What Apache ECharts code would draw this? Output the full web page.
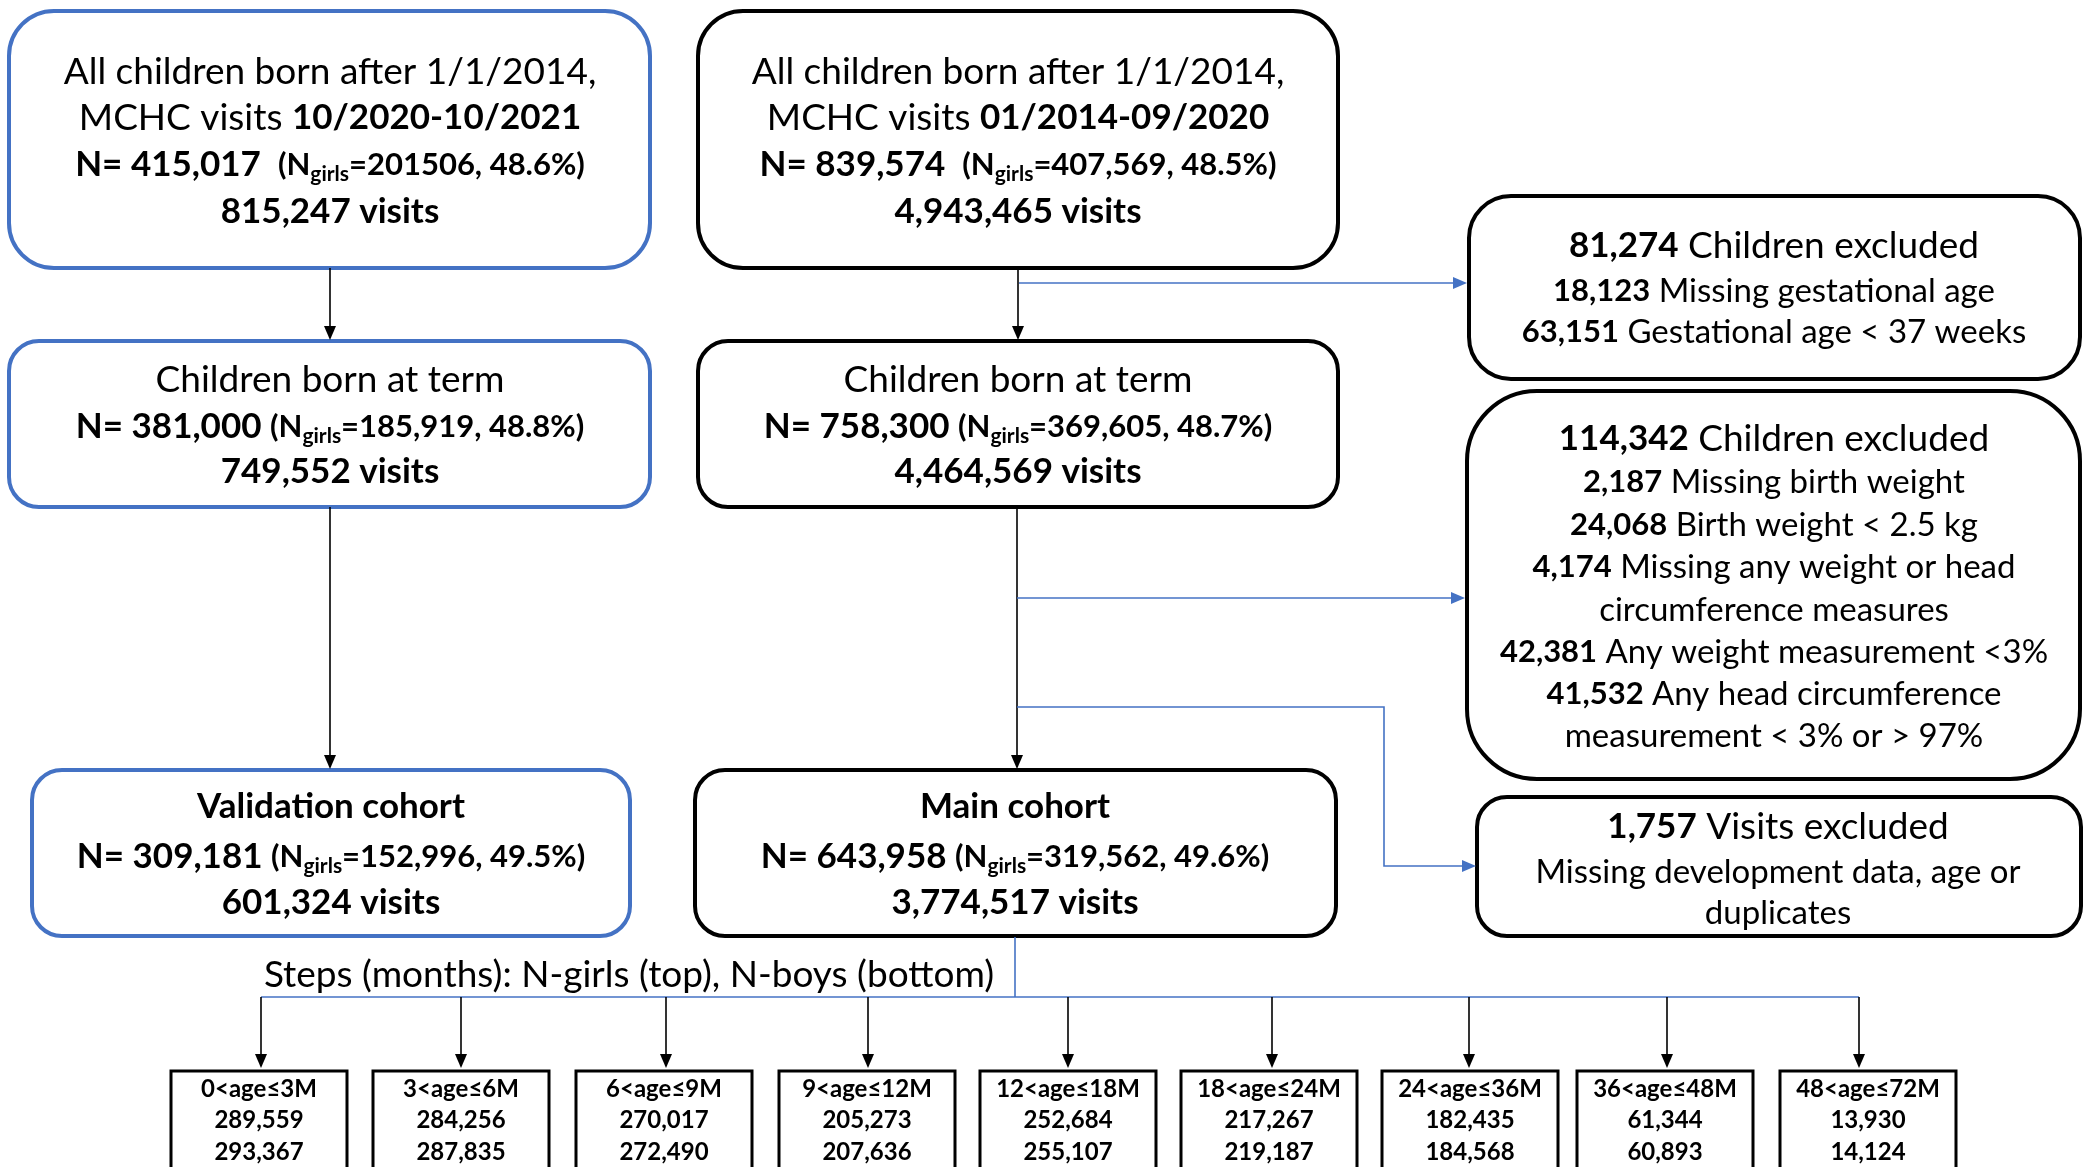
<!DOCTYPE html>
<html>
<head>
<meta charset="utf-8">
<script src="https://cdn.jsdelivr.net/npm/echarts@6/dist/echarts.min.js"></script>
<style>
  html, body { margin: 0; padding: 0; background: #fff; }
  #chart { width: 2084px; height: 1167px; }
</style>
</head>
<body>
<div id="chart"></div>
<script>
  var periods = ['10/2020-10/2021', '01/2014-09/2020'];
  var totalN = ['415,017', '839,574'];
  var totalGirls = ['201506', '407,569'];
  var totalGirlsPct = ['48.6%', '48.5%'];
  var totalVisits = ['815,247', '4,943,465'];

  var termN = ['381,000', '758,300'];
  var termGirls = ['185,919', '369,605'];
  var termGirlsPct = ['48.8%', '48.7%'];
  var termVisits = ['749,552', '4,464,569'];

  var cohortNames = ['Validation cohort', 'Main cohort'];
  var cohortN = ['309,181', '643,958'];
  var cohortGirls = ['152,996', '319,562'];
  var cohortGirlsPct = ['49.5%', '49.6%'];
  var cohortVisits = ['601,324', '3,774,517'];

  var pretermCounts = ['81,274', '18,123', '63,151'];
  var pretermReasons = ['Children excluded', 'Missing gestational age', 'Gestational age < 37 weeks'];

  var growthCounts = ['114,342', '2,187', '24,068', '4,174', '', '42,381', '41,532', ''];
  var growthReasons = ['Children excluded', 'Missing birth weight', 'Birth weight < 2.5 kg',
    'Missing any weight or head', 'circumference measures', 'Any weight measurement <3%',
    'Any head circumference', 'measurement < 3% or > 97%'];

  var visitCounts = ['1,757', '', ''];
  var visitReasons = ['Visits excluded', 'Missing development data, age or', 'duplicates'];

  var stepTitle = 'Steps (months): N-girls (top), N-boys (bottom)';
  var stepLabels = ['0<age≤3M', '3<age≤6M', '6<age≤9M', '9<age≤12M', '12<age≤18M',
    '18<age≤24M', '24<age≤36M', '36<age≤48M', '48<age≤72M'];
  var stepGirls = [289559, 284256, 270017, 205273, 252684, 217267, 182435, 61344, 13930];
  var stepBoys = [293367, 287835, 272490, 207636, 255107, 219187, 184568, 60893, 14124];

  // ---- drawing ----
  var FONT = 'Lato, "Open Sans", sans-serif';
  var BLUE = '#4472C4';
  var elements = [];

  // regular text in the original is a bit wider than Lato, so it gets a small boost
  function richFor(size) {
    var sub = Math.round(size * 0.6);
    return {
      r: { fontFamily: FONT, fontSize: Math.round(size * 1.06), fontWeight: 'normal', fill: '#000' },
      b: { fontFamily: FONT, fontSize: size, fontWeight: 'bold', fill: '#000' },
      p: { fontFamily: FONT, fontSize: size - 4, fontWeight: 'bold', fill: '#000' },
      s: { fontFamily: FONT, fontSize: sub, fontWeight: 'bold', fill: '#000', padding: [18, 0, 0, 0], lineHeight: 20 }
    };
  }

  function text(x, y, str, size) {
    elements.push({
      type: 'text', x: x, y: y, silent: true, z: 10,
      style: {
        text: str, rich: richFor(size), align: 'center', verticalAlign: 'middle',
        fontFamily: FONT, fontSize: size, fill: '#000'
      }
    });
  }

  function box(x, y, w, h, r, color, lw) {
    elements.push({
      type: 'rect', silent: true, z: 5,
      shape: { x: x, y: y, width: w, height: h, r: r },
      style: { fill: '#fff', stroke: color, lineWidth: lw }
    });
  }

  function head(x, y, dir, color) {
    var L = 14, W = 6, pts;
    if (dir === 'down') pts = [[x, y], [x - W, y - L], [x + W, y - L]];
    else pts = [[x, y], [x - L, y - W], [x - L, y + W]];
    elements.push({ type: 'polygon', silent: true, z: 8, shape: { points: pts }, style: { fill: color } });
  }

  function wire(points, color, arrow) {
    var n = points.length, last = points[n - 1].slice(), prev = points[n - 2];
    var dir = last[0] === prev[0] ? 'down' : 'right';
    var pts = points.slice(0, n - 1);
    if (arrow) {
      if (dir === 'down') pts.push([last[0], last[1] - 12]); else pts.push([last[0] - 12, last[1]]);
    } else pts.push(last);
    elements.push({ type: 'polyline', silent: true, z: 6, shape: { points: pts }, style: { stroke: color, lineWidth: 1.6, fill: null } });
    if (arrow) head(last[0], last[1], dir, color);
  }

  function girlsLine(n, g, pct, gap) {
    return '{b|N= ' + n + '}{b|' + gap + '}{p|(N}{s|girls}{p|=' + g + ', ' + pct + ')}';
  }

  // column boxes (left: validation data, middle: main data)
  var colX = [9, 698], colW = [641, 640], colC = [330, 1018];
  var colColor = [BLUE, '#000'];
  for (var i = 0; i < 2; i++) {
    box(colX[i], 11, colW[i], 257, 45, colColor[i], 4);
    text(colC[i], 72, '{r|All children born after 1/1/2014,}', 35);
    text(colC[i], 118, '{r|MCHC visits }{b|' + periods[i] + '}', 35);
    text(colC[i], 165, girlsLine(totalN[i], totalGirls[i], totalGirlsPct[i], '  '), 35);
    text(colC[i], 212, '{b|' + totalVisits[i] + ' visits}', 35);

    box(colX[i], 341, colW[i], 166, 30, colColor[i], 4);
    text(colC[i], 380, '{r|Children born at term}', 35);
    text(colC[i], 427, girlsLine(termN[i], termGirls[i], termGirlsPct[i], ' '), 35);
    text(colC[i], 472, '{b|' + termVisits[i] + ' visits}', 35);
  }

  var cohX = [32, 695], cohW = [598, 641], cohC = [331, 1015];
  for (i = 0; i < 2; i++) {
    box(cohX[i], 770, cohW[i], 166, 30, colColor[i], 4);
    text(cohC[i], 807, '{b|' + cohortNames[i] + '}', 35);
    text(cohC[i], 857, girlsLine(cohortN[i], cohortGirls[i], cohortGirlsPct[i], ' '), 35);
    text(cohC[i], 903, '{b|' + cohortVisits[i] + ' visits}', 35);
  }

  // exclusion boxes on the right
  function exclusion(counts, reasons, cx, ys) {
    for (var k = 0; k < reasons.length; k++) {
      var s = counts[k] ? '{b|' + counts[k] + '}{r| ' + reasons[k] + '}' : '{r|' + reasons[k] + '}';
      text(cx, ys[k], s, k === 0 ? 35 : 31);
    }
  }
  box(1469, 196, 611, 183, 42, '#000', 4);
  exclusion(pretermCounts, pretermReasons, 1774, [246, 291, 332]);
  box(1467, 391, 613, 388, 70, '#000', 4);
  exclusion(growthCounts, growthReasons, 1774, [439, 482, 525, 567, 610, 652, 694, 736]);
  box(1477, 797, 604, 139, 30, '#000', 4);
  exclusion(visitCounts, visitReasons, 1778, [827, 872, 913]);

  // connectors
  wire([[330, 268], [330, 340]], '#000', true);
  wire([[1018, 268], [1018, 340]], '#000', true);
  wire([[1019, 283], [1467, 283]], BLUE, true);
  wire([[330, 507], [330, 769]], '#000', true);
  wire([[1017, 507], [1017, 769]], '#000', true);
  wire([[1017, 598], [1465, 598]], BLUE, true);
  wire([[1017, 707], [1384, 707], [1384, 866], [1476, 866]], BLUE, true);
  wire([[1015, 937], [1015, 997]], BLUE, false);

  // step boxes
  var stepArrowX = [261, 461, 666, 868, 1068, 1272, 1469, 1667, 1859];
  var stepBoxX = [171, 373, 576, 779, 980, 1181, 1382, 1577, 1780];
  wire([[stepArrowX[0], 997], [stepArrowX[stepArrowX.length - 1], 997]], BLUE, false);
  text(629, 975, '{r|' + stepTitle + '}', 35);
  for (i = 0; i < stepLabels.length; i++) {
    wire([[stepArrowX[i], 997], [stepArrowX[i], 1068]], '#000', true);
    elements.push({
      type: 'rect', silent: true, z: 5,
      shape: { x: stepBoxX[i], y: 1071, width: 176, height: 120 },
      style: { fill: '#fff', stroke: '#000', lineWidth: 3 }
    });
    var cx = stepBoxX[i] + 88;
    text(cx, 1089, '{b|' + stepLabels[i] + '}', 24);
    text(cx, 1120, '{b|' + stepGirls[i].toLocaleString('en-US') + '}', 24);
    text(cx, 1152, '{b|' + stepBoys[i].toLocaleString('en-US') + '}', 24);
  }

  var chart = echarts.init(document.getElementById('chart'), null, { renderer: 'canvas' });
  chart.setOption({
    backgroundColor: '#fff',
    animation: false,
    graphic: { elements: elements }
  });
</script>
</body>
</html>
